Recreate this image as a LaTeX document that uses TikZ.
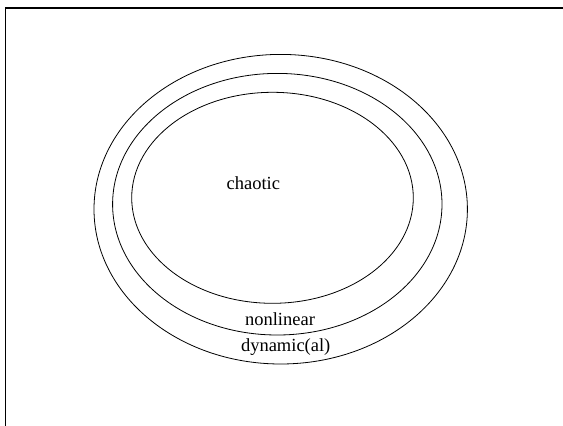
\documentclass[tikz,border=0pt]{standalone}
\usepackage{fontspec}
\setmainfont{Liberation Serif}
\begin{document}
\begin{tikzpicture}[x=1pt,y=-1pt,
  ring/.style={draw=black,line width=0.8pt},
  lbl/.style={font=\fontsize{18.5}{22}\selectfont,inner sep=0pt}]
\useasboundingbox (0,0) rectangle (563,426);
\draw[line width=1.8pt] (5.5,430) -- (5.5,8) -- (570,8);
\draw[ring] (280.7,209.2) ellipse [x radius=186.7, y radius=154.8];
\draw[ring] (277.3,204.2) ellipse [x radius=164.7, y radius=130.8];
\draw[ring] (272.5,197.8) ellipse [x radius=140.8, y radius=105.5];
\node[lbl] (chaotic) at (253.3,183.3) {chaotic};
\node[lbl] (nonlinear) at (280,319.3) {nonlinear};
\node[lbl] (dynamic) at (285.7,347.3) {dynamic(al)};
\end{tikzpicture}
\end{document}
